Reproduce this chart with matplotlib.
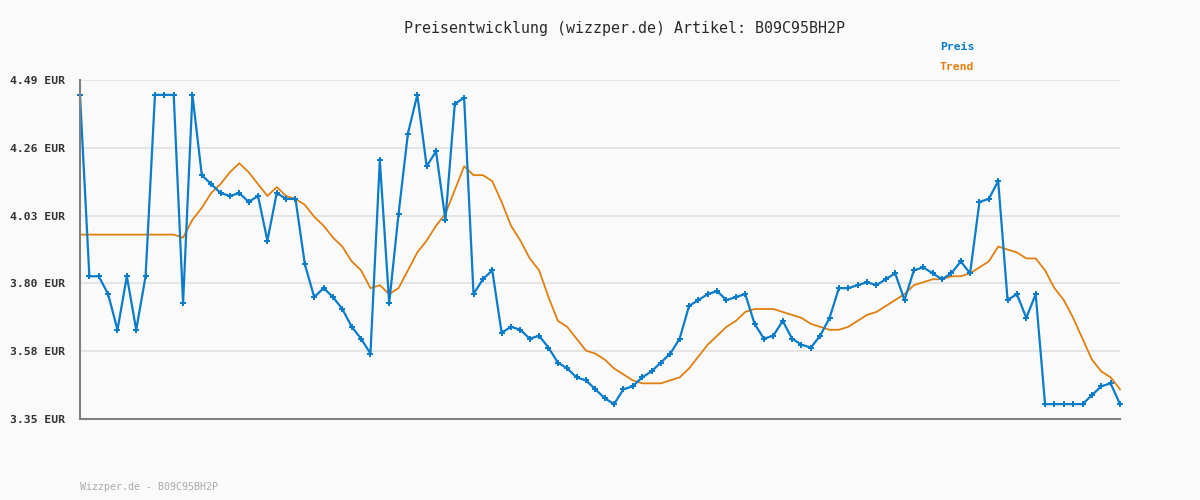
import numpy as np
import matplotlib
matplotlib.use('Agg')
import matplotlib.pyplot as plt

# price per sample (EUR)
preis = [4.44, 3.83, 3.83, 3.77, 3.65, 3.83, 3.65, 3.83, 4.44, 4.44,
         4.44, 3.74, 4.44, 4.17, 4.14, 4.11, 4.10, 4.11, 4.08, 4.10,
         3.95, 4.11, 4.09, 4.09, 3.87, 3.76, 3.79, 3.76, 3.72, 3.66,
         3.62, 3.57, 4.22, 3.74, 4.04, 4.31, 4.44, 4.20, 4.25, 4.02,
         4.41, 4.43, 3.77, 3.82, 3.85, 3.64, 3.66, 3.65, 3.62, 3.63,
         3.59, 3.54, 3.52, 3.49, 3.48, 3.45, 3.42, 3.40, 3.45, 3.46,
         3.49, 3.51, 3.54, 3.57, 3.62, 3.73, 3.75, 3.77, 3.78, 3.75,
         3.76, 3.77, 3.67, 3.62, 3.63, 3.68, 3.62, 3.60, 3.59, 3.63,
         3.69, 3.79, 3.79, 3.80, 3.81, 3.80, 3.82, 3.84, 3.75, 3.85,
         3.86, 3.84, 3.82, 3.84, 3.88, 3.84, 4.08, 4.09, 4.15, 3.75,
         3.77, 3.69, 3.77, 3.40, 3.40, 3.40, 3.40, 3.40, 3.43, 3.46,
         3.47, 3.40]

trend = [3.97, 3.97, 3.97, 3.97, 3.97, 3.97, 3.97, 3.97, 3.97, 3.97,
         3.97, 3.96, 4.02, 4.06, 4.11, 4.14, 4.18, 4.21, 4.18, 4.14,
         4.10, 4.13, 4.10, 4.09, 4.07, 4.03, 4.00, 3.96, 3.93, 3.88,
         3.85, 3.79, 3.80, 3.77, 3.79, 3.85, 3.91, 3.95, 4.00, 4.04,
         4.12, 4.20, 4.17, 4.17, 4.15, 4.08, 4.00, 3.95, 3.89, 3.85,
         3.76, 3.68, 3.66, 3.62, 3.58, 3.57, 3.55, 3.52, 3.50, 3.48,
         3.47, 3.47, 3.47, 3.48, 3.49, 3.52, 3.56, 3.60, 3.63, 3.66,
         3.68, 3.71, 3.72, 3.72, 3.72, 3.71, 3.70, 3.69, 3.67, 3.66,
         3.65, 3.65, 3.66, 3.68, 3.70, 3.71, 3.73, 3.75, 3.77, 3.80,
         3.81, 3.82, 3.82, 3.83, 3.83, 3.84, 3.86, 3.88, 3.93, 3.92,
         3.91, 3.89, 3.89, 3.85, 3.79, 3.75, 3.69, 3.62, 3.55, 3.51,
         3.49, 3.45]

ytick_labels = ['3.35 EUR', '3.58 EUR', '3.80 EUR', '4.03 EUR', '4.26 EUR', '4.49 EUR']
y_min, y_max = 3.35, 4.49

BG = '#fafafa'
BLUE = '#0a7cc9'
ORANGE = '#e07f10'
MONO = ['DejaVu Sans Mono']


def main():
    fig = plt.figure(figsize=(12, 5), dpi=100, facecolor=BG)
    ax = fig.add_axes([80 / 1200., 81 / 500., 1040 / 1200., 339 / 500.])
    ax.set_facecolor(BG)

    x = np.arange(len(preis))
    ax.plot(x, trend, color=ORANGE, lw=1.3, zorder=3, clip_on=False)
    ax.plot(x, preis, color=BLUE, lw=1.6, marker='P', ms=4, mew=0,
            zorder=4, clip_on=False)

    ax.set_xlim(0, len(preis) - 1)
    ax.set_ylim(y_min, y_max)
    ticks = np.linspace(y_min, y_max, len(ytick_labels))
    ax.set_yticks(ticks)
    ax.set_yticklabels(ytick_labels, family=MONO, fontweight='bold',
                       fontsize=8.2, color='#333333')
    ax.set_xticks([])
    ax.tick_params(axis='y', length=0, pad=11)

    for t in ticks[1:]:
        ax.axhline(t, color='#e4e4e4', lw=1.4, zorder=1)

    for s in ('top', 'right'):
        ax.spines[s].set_visible(False)
    for s in ('left', 'bottom'):
        ax.spines[s].set_color('#808080')
        ax.spines[s].set_linewidth(1.5)
        ax.spines[s].set_zorder(5)

    fig.text(624 / 1200., 1 - 28 / 500., 'Preisentwicklung (wizzper.de) Artikel: B09C95BH2P',
             ha='center', va='center', family=MONO, fontsize=10.8, color='#2a2a2a')
    fig.text(940 / 1200., 1 - 47 / 500., 'Preis', ha='left', va='center',
             family=MONO, fontweight='bold', fontsize=8.2, color=BLUE)
    fig.text(940 / 1200., 1 - 67 / 500., 'Trend', ha='left', va='center',
             family=MONO, fontweight='bold', fontsize=8.2, color=ORANGE)
    fig.text(80 / 1200., 1 - 487 / 500., 'Wizzper.de - B09C95BH2P', ha='left',
             va='center', family=MONO, fontsize=7.2, color='#aaaaaa')

    fig.savefig('out.png', dpi=100, facecolor=BG)


if __name__ == '__main__':
    main()
